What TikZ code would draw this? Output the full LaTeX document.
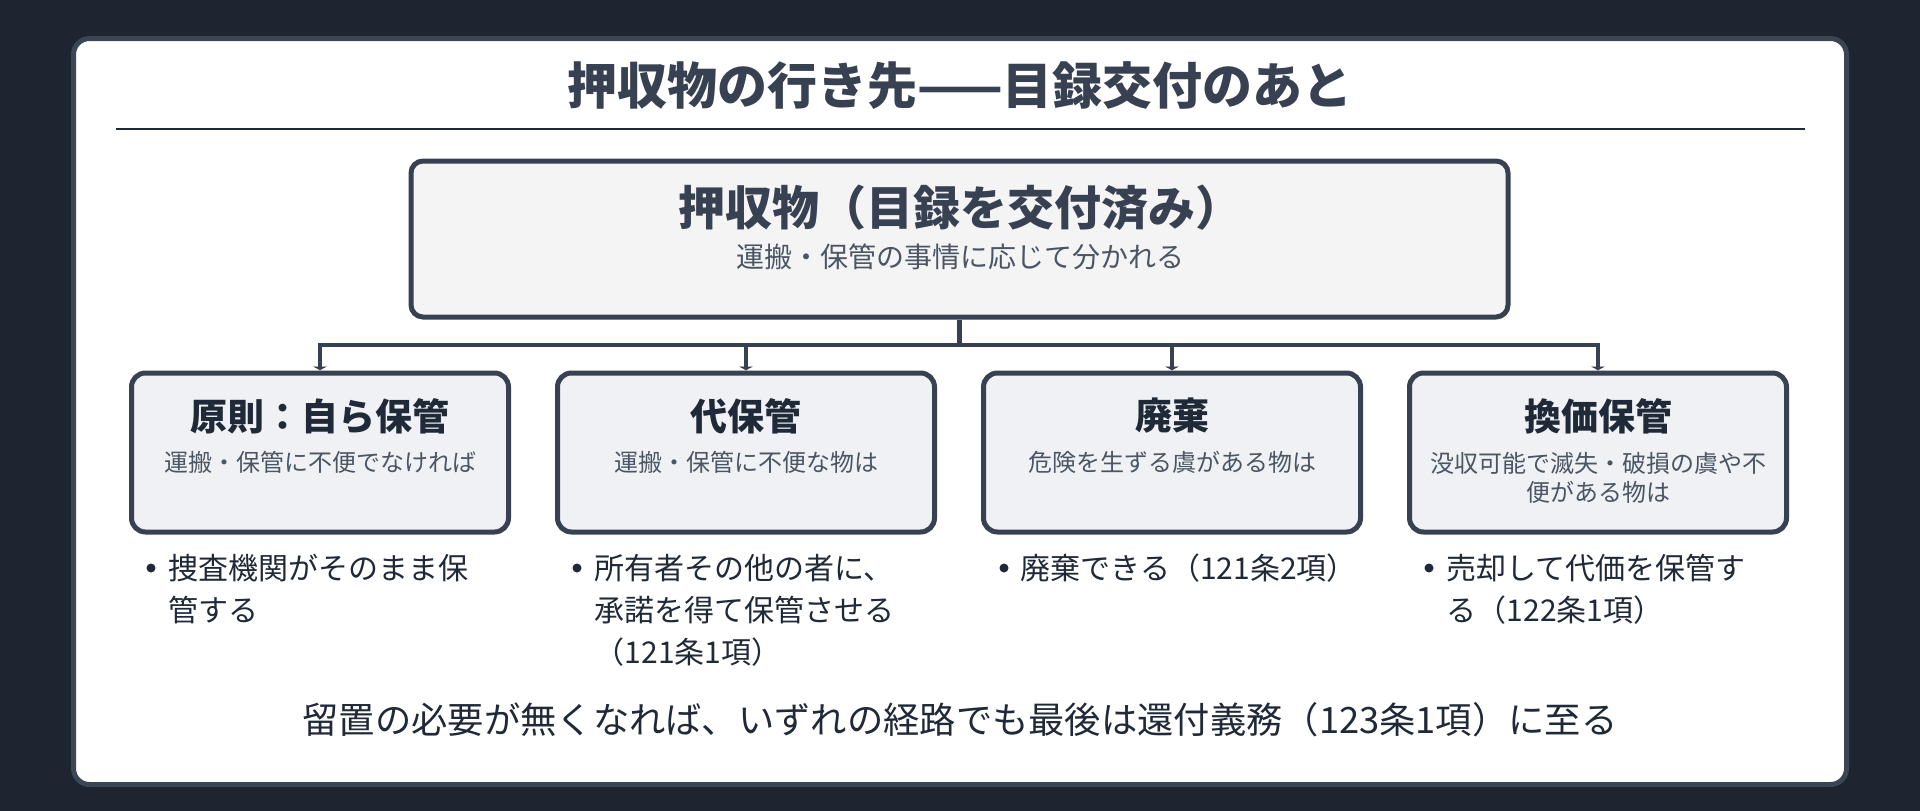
\documentclass[tikz,border=0pt]{standalone}
\usepackage{fontspec}
\setmainfont{Noto Sans CJK JP}
\usepackage{xcolor}
\usetikzlibrary{calc}
\usetikzlibrary{arrows.meta}
\definecolor{bgdark}{HTML}{1E2430}
\definecolor{cardline}{HTML}{3B4554}
\definecolor{ink}{HTML}{374151}
\definecolor{inkdark}{HTML}{1F2937}
\definecolor{subgray}{HTML}{4B5563}
\definecolor{rootfill}{HTML}{F4F4F5}
\definecolor{kidfill}{HTML}{EFF1F5}

\begin{document}
\begin{tikzpicture}[x=1pt,y=-1pt,
        wire/.style={ink,line width=4.5pt},
        kidbox/.style={draw=ink,line width=5pt,fill=kidfill,rounded corners=14pt,minimum width=377pt,minimum height=159pt,inner sep=0pt},
        kidtitle/.style={font=\fontsize{37}{44}\selectfont\bfseries,text=inkdark,inner sep=0pt},
        kidsub/.style={font=\fontsize{24}{29}\selectfont,text=subgray,align=center,inner sep=0pt},
        dot/.style={circle,fill=inkdark,inner sep=0pt,minimum size=9pt},
        note/.style={anchor=base west,text width=340pt,align=left,font=\fontsize{30}{42}\selectfont,text=inkdark,inner sep=0pt}]
        \fill[bgdark] (0,0) rectangle (1920,811);
        \useasboundingbox (0,0) rectangle (1920,811);
        \draw[cardline,line width=5pt,fill=white,rounded corners=16pt] (73.5,38.5) rectangle (1846.5,784.5);

        \node[font=\fontsize{50}{58}\selectfont\bfseries,text=ink,inner sep=0pt] (title) at (960,86) {押収物の行き先——目録交付のあと};
        \draw[inkdark,line width=2.5pt] (116,129) -- (1805,129);

        \node[draw=ink,line width=5pt,fill=rootfill,rounded corners=12pt,minimum width=1097pt,minimum height=156pt,inner sep=0pt] (root) at (959.5,239) {};
        \node[font=\fontsize{47}{54}\selectfont\bfseries,text=ink,inner sep=0pt] (rootmain) at (960,208) {押収物（目録を交付済み）};
        \node[font=\fontsize{28}{34}\selectfont,text=subgray,inner sep=0pt] (rootsub) at (960,257) {運搬・保管の事情に応じて分かれる};

        \node[kidbox] (keep) at (320,452.5) {};
        \node[kidbox] (proxy) at (746,452.5) {};
        \node[kidbox] (dispose) at (1172,452.5) {};
        \node[kidbox] (sell) at (1598,452.5) {};

        \coordinate (hub) at (959.5,345);
        \draw[wire] (root.south) -- (hub);
        \draw[wire,-{Latex[length=4pt,width=16pt]}] (hub) -| (keep.north);
        \draw[wire,-{Latex[length=4pt,width=16pt]}] (hub) -| (proxy.north);
        \draw[wire,-{Latex[length=4pt,width=16pt]}] (hub) -| (dispose.north);
        \draw[wire,-{Latex[length=4pt,width=16pt]}] (hub) -| (sell.north);

        \node[kidtitle] (keeptitle) at (320,416) {原則：自ら保管};
        \node[kidsub] (keepsub) at (320,462) {運搬・保管に不便でなければ};
        \node[kidtitle] (proxytitle) at (746,416) {代保管};
        \node[kidsub] (proxysub) at (746,462) {運搬・保管に不便な物は};
        \node[kidtitle] (disposetitle) at (1172,416) {廃棄};
        \node[kidsub] (disposesub) at (1172,462) {危険を生ずる虞がある物は};
        \node[kidtitle] (selltitle) at (1598,416) {換価保管};
        \node[kidsub] (sellsub) at (1598,477.5) {没収可能で滅失・破損の虞や不\\便がある物は};

        \node[dot] (keepdot) at (151,568) {};
        \node[note] (keepnote) at (168.5,579) {捜査機関がそのまま保\\管する};
        \node[dot] (proxydot) at (577,568) {};
        \node[note] (proxynote) at (594.5,579) {所有者その他の者に、\\承諾を得て保管させる\\（121条1項）};
        \node[dot] (disposedot) at (1004,568) {};
        \node[note] (disposenote) at (1020.5,579) {廃棄できる（121条2項）};
        \node[dot] (selldot) at (1429,568) {};
        \node[note] (sellnote) at (1446.5,579) {売却して代価を保管す\\る（122条1項）};

        \node[font=\fontsize{36.3}{42}\selectfont,text=inkdark,inner sep=0pt] (footer) at (960,720) {留置の必要が無くなれば、いずれの経路でも最後は還付義務（123条1項）に至る};
    \end{tikzpicture}
\end{document}
